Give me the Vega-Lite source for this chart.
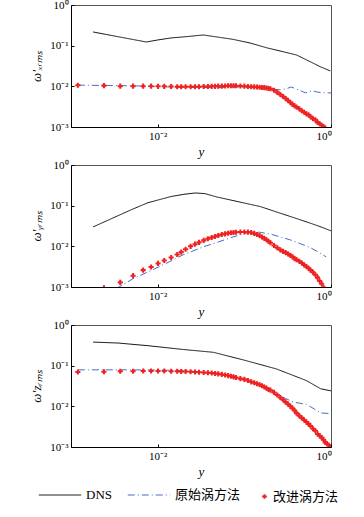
{
"$schema": "https://vega.github.io/schema/vega-lite/v6.json",
"padding": {"left": 30, "top": -2, "right": 5, "bottom": 5},
"spacing": 38,
"bounds": "flush",
"config": {
  "font": "Liberation Serif",
  "view": {"stroke": "#555", "strokeWidth": 1},
  "axis": {"grid": false, "domainColor": "#000", "tickColor": "#000", "labelFont": "Liberation Serif", "labelFontSize": 11, "labelColor": "#000", "titleFont": "Liberation Serif", "titleFontStyle": "italic", "titleFontWeight": "normal", "titleFontSize": 13, "titleColor": "#000", "tickSize": -3}
},
"datasets": {
"d": [
{"p":1,"s":"DNS","x":0.0018,"y":0.217},{"p":1,"s":"DNS","x":0.0025,"y":0.19},{"p":1,"s":"DNS","x":0.0035,"y":0.166},{"p":1,"s":"DNS","x":0.005,"y":0.144},{"p":1,"s":"DNS","x":0.0074,"y":0.123},{"p":1,"s":"DNS","x":0.01,"y":0.138},{"p":1,"s":"DNS","x":0.0143,"y":0.155},{"p":1,"s":"DNS","x":0.0197,"y":0.164},{"p":1,"s":"DNS","x":0.0336,"y":0.183},{"p":1,"s":"DNS","x":0.048,"y":0.164},{"p":1,"s":"DNS","x":0.074,"y":0.143},{"p":1,"s":"DNS","x":0.117,"y":0.116},{"p":1,"s":"DNS","x":0.18,"y":0.089},{"p":1,"s":"DNS","x":0.28,"y":0.071},{"p":1,"s":"DNS","x":0.4,"y":0.059},{"p":1,"s":"DNS","x":0.58,"y":0.04},{"p":1,"s":"DNS","x":0.76,"y":0.03},{"p":1,"s":"DNS","x":0.98,"y":0.024},
{"p":1,"s":"原始涡方法","x":0.0012,"y":0.0107},{"p":1,"s":"原始涡方法","x":0.0024,"y":0.0105},{"p":1,"s":"原始涡方法","x":0.005,"y":0.0103},{"p":1,"s":"原始涡方法","x":0.01,"y":0.0099},{"p":1,"s":"原始涡方法","x":0.02,"y":0.0094},{"p":1,"s":"原始涡方法","x":0.05,"y":0.0093},{"p":1,"s":"原始涡方法","x":0.074,"y":0.0096},{"p":1,"s":"原始涡方法","x":0.12,"y":0.0094},{"p":1,"s":"原始涡方法","x":0.2,"y":0.0086},{"p":1,"s":"原始涡方法","x":0.26,"y":0.0082},{"p":1,"s":"原始涡方法","x":0.3,"y":0.0087},{"p":1,"s":"原始涡方法","x":0.35,"y":0.0096},{"p":1,"s":"原始涡方法","x":0.42,"y":0.0082},{"p":1,"s":"原始涡方法","x":0.51,"y":0.0069},{"p":1,"s":"原始涡方法","x":0.6,"y":0.0078},{"p":1,"s":"原始涡方法","x":0.7,"y":0.0072},{"p":1,"s":"原始涡方法","x":0.85,"y":0.0069},{"p":1,"s":"原始涡方法","x":1.0,"y":0.0069},
{"p":1,"s":"改进涡方法","x":0.0012,"y":0.0106},{"p":1,"s":"改进涡方法","x":0.0024,"y":0.0104},{"p":1,"s":"改进涡方法","x":0.0037,"y":0.0101},{"p":1,"s":"改进涡方法","x":0.0052,"y":0.0101},{"p":1,"s":"改进涡方法","x":0.0068,"y":0.0101},{"p":1,"s":"改进涡方法","x":0.0084,"y":0.0101},{"p":1,"s":"改进涡方法","x":0.0101,"y":0.01},{"p":1,"s":"改进涡方法","x":0.0119,"y":0.01},{"p":1,"s":"改进涡方法","x":0.0143,"y":0.0099},{"p":1,"s":"改进涡方法","x":0.0168,"y":0.0098},{"p":1,"s":"改进涡方法","x":0.0187,"y":0.0098},{"p":1,"s":"改进涡方法","x":0.021,"y":0.0098},{"p":1,"s":"改进涡方法","x":0.024,"y":0.0098},{"p":1,"s":"改进涡方法","x":0.027,"y":0.0098},{"p":1,"s":"改进涡方法","x":0.03,"y":0.0098},{"p":1,"s":"改进涡方法","x":0.034,"y":0.0099},{"p":1,"s":"改进涡方法","x":0.038,"y":0.0099},{"p":1,"s":"改进涡方法","x":0.042,"y":0.01},{"p":1,"s":"改进涡方法","x":0.046,"y":0.01},{"p":1,"s":"改进涡方法","x":0.05,"y":0.0101},{"p":1,"s":"改进涡方法","x":0.055,"y":0.0101},{"p":1,"s":"改进涡方法","x":0.06,"y":0.0102},{"p":1,"s":"改进涡方法","x":0.065,"y":0.0103},{"p":1,"s":"改进涡方法","x":0.07,"y":0.0103},{"p":1,"s":"改进涡方法","x":0.075,"y":0.0103},{"p":1,"s":"改进涡方法","x":0.08,"y":0.0103},{"p":1,"s":"改进涡方法","x":0.09,"y":0.0102},{"p":1,"s":"改进涡方法","x":0.1,"y":0.0101},{"p":1,"s":"改进涡方法","x":0.11,"y":0.0099},{"p":1,"s":"改进涡方法","x":0.12,"y":0.0098},{"p":1,"s":"改进涡方法","x":0.13,"y":0.0097},{"p":1,"s":"改进涡方法","x":0.14,"y":0.0096},{"p":1,"s":"改进涡方法","x":0.15,"y":0.0095},{"p":1,"s":"改进涡方法","x":0.16,"y":0.0094},{"p":1,"s":"改进涡方法","x":0.17,"y":0.0093},{"p":1,"s":"改进涡方法","x":0.18,"y":0.0091},{"p":1,"s":"改进涡方法","x":0.19,"y":0.0089},{"p":1,"s":"改进涡方法","x":0.2,"y":0.0087},{"p":1,"s":"改进涡方法","x":0.22,"y":0.008},{"p":1,"s":"改进涡方法","x":0.24,"y":0.0071},{"p":1,"s":"改进涡方法","x":0.26,"y":0.0063},{"p":1,"s":"改进涡方法","x":0.28,"y":0.0056},{"p":1,"s":"改进涡方法","x":0.3,"y":0.005},{"p":1,"s":"改进涡方法","x":0.32,"y":0.0045},{"p":1,"s":"改进涡方法","x":0.34,"y":0.004},{"p":1,"s":"改进涡方法","x":0.36,"y":0.0036},{"p":1,"s":"改进涡方法","x":0.38,"y":0.0033},{"p":1,"s":"改进涡方法","x":0.4,"y":0.0031},{"p":1,"s":"改进涡方法","x":0.43,"y":0.0028},{"p":1,"s":"改进涡方法","x":0.46,"y":0.0025},{"p":1,"s":"改进涡方法","x":0.49,"y":0.0023},{"p":1,"s":"改进涡方法","x":0.52,"y":0.0021},{"p":1,"s":"改进涡方法","x":0.55,"y":0.002},{"p":1,"s":"改进涡方法","x":0.58,"y":0.0018},{"p":1,"s":"改进涡方法","x":0.62,"y":0.0016},{"p":1,"s":"改进涡方法","x":0.66,"y":0.0015},{"p":1,"s":"改进涡方法","x":0.7,"y":0.0013},{"p":1,"s":"改进涡方法","x":0.74,"y":0.0012},{"p":1,"s":"改进涡方法","x":0.78,"y":0.0011},{"p":1,"s":"改进涡方法","x":0.82,"y":0.00102},{"p":1,"s":"改进涡方法","x":0.86,"y":0.00094},{"p":1,"s":"改进涡方法","x":0.9,"y":0.00086},
{"p":2,"s":"DNS","x":0.0018,"y":0.03},{"p":2,"s":"DNS","x":0.003,"y":0.049},{"p":2,"s":"DNS","x":0.005,"y":0.08},{"p":2,"s":"DNS","x":0.0077,"y":0.118},{"p":2,"s":"DNS","x":0.0143,"y":0.168},{"p":2,"s":"DNS","x":0.02,"y":0.19},{"p":2,"s":"DNS","x":0.027,"y":0.205},{"p":2,"s":"DNS","x":0.035,"y":0.198},{"p":2,"s":"DNS","x":0.048,"y":0.164},{"p":2,"s":"DNS","x":0.098,"y":0.117},{"p":2,"s":"DNS","x":0.153,"y":0.095},{"p":2,"s":"DNS","x":0.235,"y":0.07},{"p":2,"s":"DNS","x":0.35,"y":0.053},{"p":2,"s":"DNS","x":0.58,"y":0.037},{"p":2,"s":"DNS","x":0.8,"y":0.029},{"p":2,"s":"DNS","x":1.0,"y":0.024},
{"p":2,"s":"原始涡方法","x":0.0033,"y":0.0009},{"p":2,"s":"原始涡方法","x":0.0052,"y":0.0016},{"p":2,"s":"原始涡方法","x":0.0086,"y":0.0026},{"p":2,"s":"原始涡方法","x":0.0125,"y":0.0038},{"p":2,"s":"原始涡方法","x":0.0197,"y":0.0062},{"p":2,"s":"原始涡方法","x":0.0336,"y":0.0097},{"p":2,"s":"原始涡方法","x":0.05,"y":0.0128},{"p":2,"s":"原始涡方法","x":0.074,"y":0.017},{"p":2,"s":"原始涡方法","x":0.1,"y":0.0205},{"p":2,"s":"原始涡方法","x":0.117,"y":0.0225},{"p":2,"s":"原始涡方法","x":0.15,"y":0.0222},{"p":2,"s":"原始涡方法","x":0.2,"y":0.02},{"p":2,"s":"原始涡方法","x":0.26,"y":0.017},{"p":2,"s":"原始涡方法","x":0.34,"y":0.0144},{"p":2,"s":"原始涡方法","x":0.45,"y":0.0115},{"p":2,"s":"原始涡方法","x":0.58,"y":0.0092},{"p":2,"s":"原始涡方法","x":0.72,"y":0.0072},{"p":2,"s":"原始涡方法","x":0.88,"y":0.0055},
{"p":2,"s":"改进涡方法","x":0.0012,"y":0.00035},{"p":2,"s":"改进涡方法","x":0.0024,"y":0.00095},{"p":2,"s":"改进涡方法","x":0.0037,"y":0.0013},{"p":2,"s":"改进涡方法","x":0.0052,"y":0.0019},{"p":2,"s":"改进涡方法","x":0.0068,"y":0.0026},{"p":2,"s":"改进涡方法","x":0.0084,"y":0.0031},{"p":2,"s":"改进涡方法","x":0.0101,"y":0.0038},{"p":2,"s":"改进涡方法","x":0.0119,"y":0.0045},{"p":2,"s":"改进涡方法","x":0.0143,"y":0.0053},{"p":2,"s":"改进涡方法","x":0.0168,"y":0.0063},{"p":2,"s":"改进涡方法","x":0.0187,"y":0.0072},{"p":2,"s":"改进涡方法","x":0.021,"y":0.0085},{"p":2,"s":"改进涡方法","x":0.024,"y":0.01},{"p":2,"s":"改进涡方法","x":0.027,"y":0.0113},{"p":2,"s":"改进涡方法","x":0.03,"y":0.0125},{"p":2,"s":"改进涡方法","x":0.034,"y":0.014},{"p":2,"s":"改进涡方法","x":0.038,"y":0.0153},{"p":2,"s":"改进涡方法","x":0.042,"y":0.0165},{"p":2,"s":"改进涡方法","x":0.046,"y":0.0175},{"p":2,"s":"改进涡方法","x":0.05,"y":0.0185},{"p":2,"s":"改进涡方法","x":0.055,"y":0.0195},{"p":2,"s":"改进涡方法","x":0.06,"y":0.0203},{"p":2,"s":"改进涡方法","x":0.065,"y":0.021},{"p":2,"s":"改进涡方法","x":0.07,"y":0.0215},{"p":2,"s":"改进涡方法","x":0.075,"y":0.0219},{"p":2,"s":"改进涡方法","x":0.08,"y":0.0222},{"p":2,"s":"改进涡方法","x":0.09,"y":0.0225},{"p":2,"s":"改进涡方法","x":0.1,"y":0.0226},{"p":2,"s":"改进涡方法","x":0.11,"y":0.0224},{"p":2,"s":"改进涡方法","x":0.12,"y":0.0218},{"p":2,"s":"改进涡方法","x":0.13,"y":0.0208},{"p":2,"s":"改进涡方法","x":0.14,"y":0.0196},{"p":2,"s":"改进涡方法","x":0.15,"y":0.0183},{"p":2,"s":"改进涡方法","x":0.16,"y":0.017},{"p":2,"s":"改进涡方法","x":0.17,"y":0.0157},{"p":2,"s":"改进涡方法","x":0.18,"y":0.0145},{"p":2,"s":"改进涡方法","x":0.19,"y":0.0133},{"p":2,"s":"改进涡方法","x":0.2,"y":0.0122},{"p":2,"s":"改进涡方法","x":0.22,"y":0.0105},{"p":2,"s":"改进涡方法","x":0.24,"y":0.0092},{"p":2,"s":"改进涡方法","x":0.26,"y":0.0082},{"p":2,"s":"改进涡方法","x":0.28,"y":0.0075},{"p":2,"s":"改进涡方法","x":0.3,"y":0.007},{"p":2,"s":"改进涡方法","x":0.32,"y":0.0065},{"p":2,"s":"改进涡方法","x":0.34,"y":0.006},{"p":2,"s":"改进涡方法","x":0.36,"y":0.0055},{"p":2,"s":"改进涡方法","x":0.38,"y":0.005},{"p":2,"s":"改进涡方法","x":0.4,"y":0.0047},{"p":2,"s":"改进涡方法","x":0.43,"y":0.0043},{"p":2,"s":"改进涡方法","x":0.46,"y":0.0039},{"p":2,"s":"改进涡方法","x":0.49,"y":0.0035},{"p":2,"s":"改进涡方法","x":0.52,"y":0.0032},{"p":2,"s":"改进涡方法","x":0.55,"y":0.0029},{"p":2,"s":"改进涡方法","x":0.58,"y":0.0026},{"p":2,"s":"改进涡方法","x":0.62,"y":0.0023},{"p":2,"s":"改进涡方法","x":0.66,"y":0.002},{"p":2,"s":"改进涡方法","x":0.7,"y":0.0017},{"p":2,"s":"改进涡方法","x":0.74,"y":0.0014},{"p":2,"s":"改进涡方法","x":0.78,"y":0.0012},{"p":2,"s":"改进涡方法","x":0.82,"y":0.00097},{"p":2,"s":"改进涡方法","x":0.86,"y":0.0008},{"p":2,"s":"改进涡方法","x":0.9,"y":0.0006},
{"p":3,"s":"DNS","x":0.0018,"y":0.38},{"p":3,"s":"DNS","x":0.0035,"y":0.36},{"p":3,"s":"DNS","x":0.0077,"y":0.31},{"p":3,"s":"DNS","x":0.0197,"y":0.25},{"p":3,"s":"DNS","x":0.044,"y":0.213},{"p":3,"s":"DNS","x":0.098,"y":0.138},{"p":3,"s":"DNS","x":0.235,"y":0.083},{"p":3,"s":"DNS","x":0.52,"y":0.043},{"p":3,"s":"DNS","x":0.76,"y":0.027},{"p":3,"s":"DNS","x":1.0,"y":0.024},
{"p":3,"s":"原始涡方法","x":0.0012,"y":0.079},{"p":3,"s":"原始涡方法","x":0.005,"y":0.079},{"p":3,"s":"原始涡方法","x":0.01,"y":0.078},{"p":3,"s":"原始涡方法","x":0.02,"y":0.076},{"p":3,"s":"原始涡方法","x":0.05,"y":0.063},{"p":3,"s":"原始涡方法","x":0.1,"y":0.046},{"p":3,"s":"原始涡方法","x":0.15,"y":0.034},{"p":3,"s":"原始涡方法","x":0.2,"y":0.025},{"p":3,"s":"原始涡方法","x":0.25,"y":0.019},{"p":3,"s":"原始涡方法","x":0.3,"y":0.0155},{"p":3,"s":"原始涡方法","x":0.37,"y":0.0127},{"p":3,"s":"原始涡方法","x":0.45,"y":0.0118},{"p":3,"s":"原始涡方法","x":0.52,"y":0.0112},{"p":3,"s":"原始涡方法","x":0.62,"y":0.009},{"p":3,"s":"原始涡方法","x":0.76,"y":0.0069},{"p":3,"s":"原始涡方法","x":1.0,"y":0.0066},
{"p":3,"s":"改进涡方法","x":0.0012,"y":0.07},{"p":3,"s":"改进涡方法","x":0.0024,"y":0.071},{"p":3,"s":"改进涡方法","x":0.0037,"y":0.073},{"p":3,"s":"改进涡方法","x":0.0052,"y":0.073},{"p":3,"s":"改进涡方法","x":0.0068,"y":0.074},{"p":3,"s":"改进涡方法","x":0.0084,"y":0.074},{"p":3,"s":"改进涡方法","x":0.0101,"y":0.074},{"p":3,"s":"改进涡方法","x":0.0119,"y":0.074},{"p":3,"s":"改进涡方法","x":0.0143,"y":0.073},{"p":3,"s":"改进涡方法","x":0.0168,"y":0.073},{"p":3,"s":"改进涡方法","x":0.0187,"y":0.072},{"p":3,"s":"改进涡方法","x":0.021,"y":0.072},{"p":3,"s":"改进涡方法","x":0.024,"y":0.071},{"p":3,"s":"改进涡方法","x":0.027,"y":0.07},{"p":3,"s":"改进涡方法","x":0.03,"y":0.069},{"p":3,"s":"改进涡方法","x":0.034,"y":0.068},{"p":3,"s":"改进涡方法","x":0.038,"y":0.067},{"p":3,"s":"改进涡方法","x":0.042,"y":0.066},{"p":3,"s":"改进涡方法","x":0.046,"y":0.064},{"p":3,"s":"改进涡方法","x":0.05,"y":0.063},{"p":3,"s":"改进涡方法","x":0.055,"y":0.061},{"p":3,"s":"改进涡方法","x":0.06,"y":0.059},{"p":3,"s":"改进涡方法","x":0.065,"y":0.057},{"p":3,"s":"改进涡方法","x":0.07,"y":0.055},{"p":3,"s":"改进涡方法","x":0.075,"y":0.053},{"p":3,"s":"改进涡方法","x":0.08,"y":0.051},{"p":3,"s":"改进涡方法","x":0.09,"y":0.048},{"p":3,"s":"改进涡方法","x":0.1,"y":0.046},{"p":3,"s":"改进涡方法","x":0.11,"y":0.043},{"p":3,"s":"改进涡方法","x":0.12,"y":0.04},{"p":3,"s":"改进涡方法","x":0.13,"y":0.038},{"p":3,"s":"改进涡方法","x":0.14,"y":0.036},{"p":3,"s":"改进涡方法","x":0.15,"y":0.034},{"p":3,"s":"改进涡方法","x":0.16,"y":0.032},{"p":3,"s":"改进涡方法","x":0.17,"y":0.03},{"p":3,"s":"改进涡方法","x":0.18,"y":0.028},{"p":3,"s":"改进涡方法","x":0.19,"y":0.026},{"p":3,"s":"改进涡方法","x":0.2,"y":0.025},{"p":3,"s":"改进涡方法","x":0.22,"y":0.022},{"p":3,"s":"改进涡方法","x":0.24,"y":0.019},{"p":3,"s":"改进涡方法","x":0.26,"y":0.0165},{"p":3,"s":"改进涡方法","x":0.28,"y":0.0145},{"p":3,"s":"改进涡方法","x":0.3,"y":0.0127},{"p":3,"s":"改进涡方法","x":0.32,"y":0.0113},{"p":3,"s":"改进涡方法","x":0.34,"y":0.01},{"p":3,"s":"改进涡方法","x":0.36,"y":0.009},{"p":3,"s":"改进涡方法","x":0.38,"y":0.0079},{"p":3,"s":"改进涡方法","x":0.4,"y":0.0068},{"p":3,"s":"改进涡方法","x":0.43,"y":0.0059},{"p":3,"s":"改进涡方法","x":0.46,"y":0.0052},{"p":3,"s":"改进涡方法","x":0.49,"y":0.0046},{"p":3,"s":"改进涡方法","x":0.52,"y":0.0041},{"p":3,"s":"改进涡方法","x":0.55,"y":0.0037},{"p":3,"s":"改进涡方法","x":0.58,"y":0.0033},{"p":3,"s":"改进涡方法","x":0.62,"y":0.0028},{"p":3,"s":"改进涡方法","x":0.66,"y":0.0025},{"p":3,"s":"改进涡方法","x":0.7,"y":0.0021},{"p":3,"s":"改进涡方法","x":0.74,"y":0.0019},{"p":3,"s":"改进涡方法","x":0.78,"y":0.0017},{"p":3,"s":"改进涡方法","x":0.82,"y":0.0015},{"p":3,"s":"改进涡方法","x":0.86,"y":0.0013},{"p":3,"s":"改进涡方法","x":0.9,"y":0.0012},{"p":3,"s":"改进涡方法","x":0.94,"y":0.0011},{"p":3,"s":"改进涡方法","x":0.98,"y":0.00102}
]
},
"vconcat": [
 {
  "width": 260, "height": 122,
  "data": {"name": "d"},
  "transform": [{"filter": "datum.p == 1"}],
  "encoding": {
    "x": {"field": "x", "type": "quantitative", "scale": {"type": "log", "domain": [0.001, 1], "nice": false}, "axis": {"values": [0.01, 1], "labelExpr": "datum.value >= 0.5 ? '10⁰' : '10⁻²'", "title": "y", "titlePadding": 4, "labelPadding": 6}},
    "y": {"field": "y", "type": "quantitative", "scale": {"type": "log", "domain": [0.001, 1], "nice": false}, "axis": {"values": [0.001, 0.01, 0.1, 1], "labelExpr": "datum.value >= 0.5 ? '10⁰' : datum.value >= 0.05 ? '10⁻¹' : datum.value >= 0.005 ? '10⁻²' : '10⁻³'", "title": "ω′ₓᵣₘₛ", "titlePadding": 6, "labelPadding": 6}}
  },
  "layer": [
    {"transform": [{"filter": "datum.s != '改进涡方法'"}], "mark": {"type": "line", "clip": true, "strokeWidth": 1},
     "encoding": {"color": {"field": "s", "type": "nominal", "scale": {"domain": ["DNS", "原始涡方法"], "range": ["#111111", "#4a6cc4"]}, "legend": {"title": null, "orient": "none", "legendX": -33, "legendY": 468, "direction": "horizontal", "columns": 2, "labelFont": "Liberation Serif, Noto Sans CJK SC", "labelFontSize": 13, "labelColor": "#000", "columnPadding": 12, "labelOffset": 4, "symbolType": "stroke", "symbolSize": 1800, "symbolStrokeWidth": 1}},
       "strokeDash": {"field": "s", "type": "nominal", "scale": {"domain": ["DNS", "原始涡方法"], "range": [[1, 0], [7, 3, 1, 3]]}, "legend": {"title": null}}}},
    {"transform": [{"filter": "datum.s == '改进涡方法'"}], "mark": {"type": "point", "filled": true, "clip": true, "color": "#ee2222", "size": 26, "opacity": 1},
     "encoding": {
       "shape": {"field": "s", "type": "nominal", "scale": {"domain": ["改进涡方法"], "range": ["cross"]}, "legend": {"title": null, "orient": "none", "legendX": 187, "legendY": 485, "labelFont": "Liberation Serif, Noto Sans CJK SC", "labelFontSize": 13, "labelColor": "#000", "labelOffset": 2, "symbolSize": 22, "symbolFillColor": "#ee2222", "symbolStrokeColor": "#ee2222", "symbolStrokeWidth": 0, "symbolOpacity": 1}}}}
  ]
 },
 {
  "width": 260, "height": 122,
  "data": {"name": "d"},
  "transform": [{"filter": "datum.p == 2"}],
  "encoding": {
    "x": {"field": "x", "type": "quantitative", "scale": {"type": "log", "domain": [0.001, 1], "nice": false}, "axis": {"values": [0.01, 1], "labelExpr": "datum.value >= 0.5 ? '10⁰' : '10⁻²'", "title": "y", "titlePadding": 4, "labelPadding": 6}},
    "y": {"field": "y", "type": "quantitative", "scale": {"type": "log", "domain": [0.001, 1], "nice": false}, "axis": {"values": [0.001, 0.01, 0.1, 1], "labelExpr": "datum.value >= 0.5 ? '10⁰' : datum.value >= 0.05 ? '10⁻¹' : datum.value >= 0.005 ? '10⁻²' : '10⁻³'", "title": "ω′ᵧᵣₘₛ", "titlePadding": 6, "labelPadding": 6}}
  },
  "layer": [
    {"transform": [{"filter": "datum.s != '改进涡方法'"}], "mark": {"type": "line", "clip": true, "strokeWidth": 1},
     "encoding": {"color": {"field": "s", "type": "nominal"}, "strokeDash": {"field": "s", "type": "nominal"}}},
    {"transform": [{"filter": "datum.s == '改进涡方法'"}], "mark": {"type": "point", "filled": true, "clip": true, "color": "#ee2222", "size": 26, "opacity": 1},
     "encoding": {"shape": {"field": "s", "type": "nominal"}}}
  ]
 },
 {
  "width": 260, "height": 122,
  "data": {"name": "d"},
  "transform": [{"filter": "datum.p == 3"}],
  "encoding": {
    "x": {"field": "x", "type": "quantitative", "scale": {"type": "log", "domain": [0.001, 1], "nice": false}, "axis": {"values": [0.01, 1], "labelExpr": "datum.value >= 0.5 ? '10⁰' : '10⁻²'", "title": "y", "titlePadding": 4, "labelPadding": 6}},
    "y": {"field": "y", "type": "quantitative", "scale": {"type": "log", "domain": [0.001, 1], "nice": false}, "axis": {"values": [0.001, 0.01, 0.1, 1], "labelExpr": "datum.value >= 0.5 ? '10⁰' : datum.value >= 0.05 ? '10⁻¹' : datum.value >= 0.005 ? '10⁻²' : '10⁻³'", "title": "ω′zᵣₘₛ", "titlePadding": 6, "labelPadding": 6}}
  },
  "layer": [
    {"transform": [{"filter": "datum.s != '改进涡方法'"}], "mark": {"type": "line", "clip": true, "strokeWidth": 1},
     "encoding": {"color": {"field": "s", "type": "nominal"}, "strokeDash": {"field": "s", "type": "nominal"}}},
    {"transform": [{"filter": "datum.s == '改进涡方法'"}], "mark": {"type": "point", "filled": true, "clip": true, "color": "#ee2222", "size": 26, "opacity": 1},
     "encoding": {"shape": {"field": "s", "type": "nominal"}}}
  ]
 }
],
"resolve": {"scale": {"color": "shared", "strokeDash": "shared", "shape": "shared"}, "legend": {"color": "shared", "strokeDash": "shared", "shape": "shared"}}
}
